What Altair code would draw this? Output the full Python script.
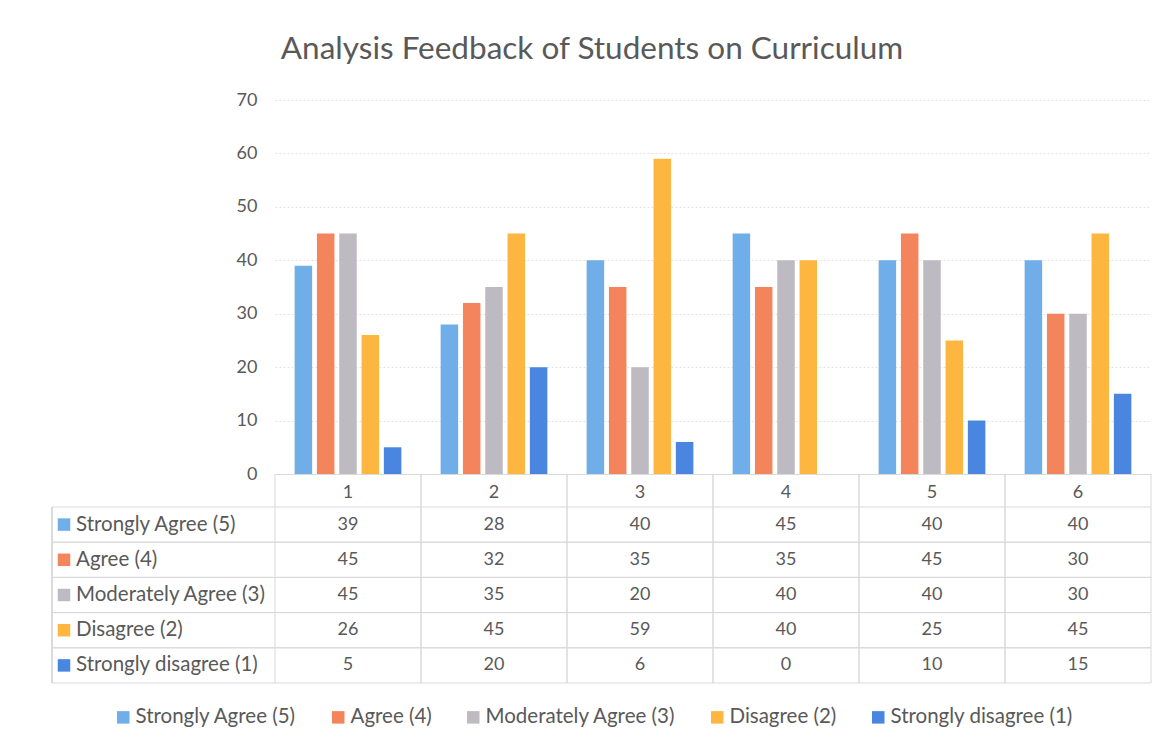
import altair as alt
import pandas as pd

categories = ["1", "2", "3", "4", "5", "6"]
series = ["Strongly Agree (5)", "Agree (4)", "Moderately Agree (3)", "Disagree (2)", "Strongly disagree (1)"]
strongly_agree = [39, 28, 40, 45, 40, 40]
agree = [45, 32, 35, 35, 45, 30]
moderately_agree = [45, 35, 20, 40, 40, 30]
disagree = [26, 45, 59, 40, 25, 45]
strongly_disagree = [5, 20, 6, 0, 10, 15]
colors = ["#70AEE9", "#F4845B", "#BDBAC2", "#FDB63F", "#4A86DF"]
y_ticks = [0, 10, 20, 30, 40, 50, 60, 70]

values = [strongly_agree, agree, moderately_agree, disagree, strongly_disagree]
rows = []
for s, vals in zip(series, values):
    for c, v in zip(categories, vals):
        rows.append({"cat": c, "series": s, "value": v, "label": str(v)})
df = pd.DataFrame(rows)
ser_df = pd.DataFrame({"series": series})

FONT = "Lato"
TXT = "#595959"
GRID = "#D9D9D9"
W, H = 876, 374
LBL = 20.5

xscale = alt.Scale(domain=categories, paddingInner=0, paddingOuter=0)
xaxis = alt.Axis(title=None, labelAngle=0, labelFontSize=18, labelFont=FONT, labelColor=TXT,
                 labelPadding=9, ticks=False, domain=True, domainColor=GRID, grid=False)
color = alt.Color("series:N", scale=alt.Scale(domain=series, range=colors),
                  legend=alt.Legend(title=None, orient="none", direction="horizontal",
                                    legendX=-162, legendY=607, symbolType="square",
                                    symbolSize=156, symbolStrokeWidth=0, labelFontSize=LBL,
                                    labelFont=FONT, labelColor=TXT, columnPadding=31,
                                    labelOffset=2, labelLimit=400))
rowscale = alt.Scale(domain=series, range=[407, 583], paddingInner=0, paddingOuter=0)

base = alt.Chart(df)

bars = base.mark_bar().encode(
    x=alt.X("cat:N", scale=xscale, axis=xaxis),
    xOffset=alt.XOffset("series:N", sort=series,
                        scale=alt.Scale(domain=series, paddingInner=0.215, paddingOuter=0.88)),
    y=alt.Y("value:Q", scale=alt.Scale(domain=[0, 70], nice=False),
            axis=alt.Axis(title=None, values=y_ticks, labelFontSize=18, labelFont=FONT,
                          labelColor=TXT, labelPadding=18, ticks=False, domain=False,
                          grid=True, gridColor="#E2E2E2", gridDash=[2, 2])),
    color=color,
)

cell_text = base.mark_text(fontSize=18, font=FONT, color=TXT).encode(
    x=alt.X("cat:N", scale=xscale, axis=xaxis),
    y=alt.Y("series:N", scale=rowscale, axis=None),
    text="label:N",
)

hlines_top = alt.Chart(ser_df).mark_rule(color=GRID, strokeWidth=1).encode(
    y=alt.Y("series:N", scale=rowscale, axis=None, bandPosition=0),
    x=alt.value(-223), x2=alt.value(W),
)
hlines_bot = alt.Chart(ser_df).mark_rule(color=GRID, strokeWidth=1).encode(
    y=alt.Y("series:N", scale=rowscale, axis=None, bandPosition=1),
    x=alt.value(-223), x2=alt.value(W),
)
cat_df = pd.DataFrame({"cat": categories})
vlines_l = alt.Chart(cat_df).mark_rule(color=GRID, strokeWidth=1).encode(
    x=alt.X("cat:N", scale=xscale, axis=xaxis, bandPosition=0),
    y=alt.value(H), y2=alt.value(583),
)
vlines_r = alt.Chart(cat_df).mark_rule(color=GRID, strokeWidth=1).encode(
    x=alt.X("cat:N", scale=xscale, axis=xaxis, bandPosition=1),
    y=alt.value(H), y2=alt.value(583),
)
left_border = alt.Chart(ser_df).mark_rule(color=GRID, strokeWidth=1).encode(
    x=alt.value(-223), y=alt.value(407), y2=alt.value(583),
)

swatches = alt.Chart(ser_df).mark_square(size=156, opacity=1).encode(
    x=alt.value(-211),
    y=alt.Y("series:N", scale=rowscale, axis=None),
    color=alt.Color("series:N", scale=alt.Scale(domain=series, range=colors), legend=None),
)
row_labels = alt.Chart(ser_df).mark_text(align="left", fontSize=LBL, font=FONT, color=TXT).encode(
    x=alt.value(-199),
    y=alt.Y("series:N", scale=rowscale, axis=None),
    text="series:N",
)

chart = alt.layer(
    bars, hlines_top, hlines_bot, vlines_l, vlines_r, left_border, cell_text, swatches, row_labels
).resolve_scale(y="independent").properties(
    width=W, height=H,
    background="white",
    autosize=alt.AutoSizeParams(type="none"),
    padding={"left": 267, "top": 92, "right": 8, "bottom": 263},
    title=alt.Title("Analysis Feedback of Students on Curriculum", fontSize=31.5, font=FONT,
                    fontWeight="normal", color=TXT, anchor="middle", frame="group",
                    dx=-121, offset=26),
).configure_view(strokeWidth=0, stroke="transparent")

chart.save("out.html", embed_options={"renderer": "svg", "actions": False})
